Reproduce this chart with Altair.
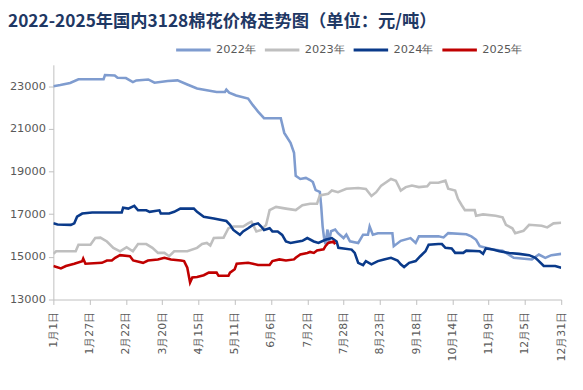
import altair as alt
import pandas as pd

series_names = ["2022年", "2023年", "2024年", "2025年"]
series_colors = ["#7f9ccf", "#bfbfbf", "#0a3a8a", "#c00000"]

tick_days = [0, 26, 52, 78, 104, 130, 156, 182, 208, 234, 260, 286, 312, 338, 364]
tick_labels = ["1月1日", "1月27日", "2月22日", "3月20日", "4月15日", "5月11日", "6月6日",
               "7月2日", "7月28日", "8月23日", "9月18日", "10月14日", "11月9日", "12月5日", "12月31日"]

y_ticks = [13000, 15000, 17000, 19000, 21000, 23000]

day_2022 = [0, 5, 12, 18, 36, 37, 44, 46, 52, 57, 59.5, 68, 72.5, 82, 89, 96, 103, 117, 123, 124, 126,
            131, 139.6, 143, 146.7, 151, 163, 165.5, 170, 172.5, 173.7, 177, 181, 184, 186, 188, 191,
            192, 193, 194, 195, 196.5, 197.5, 199, 202, 204, 208, 210, 212.6, 218.5, 222, 225.5, 226.7,
            229, 232.6, 243, 244, 249, 256, 259.7, 262, 276, 279.7, 283, 296, 299.6, 303, 305.6, 315,
            322, 330, 343, 348, 352.6, 357, 364]
val_2022 = [23000, 23050, 23150, 23320, 23330, 23520, 23500, 23390, 23380, 23190, 23270, 23315, 23160,
            23240, 23270, 23080, 22890, 22730, 22730, 22840, 22700, 22560, 22420, 22110, 21810, 21500,
            21500, 20810, 20340, 19880, 18800, 18650, 18700, 18600, 18510, 18130, 18050, 17355, 16430,
            15900, 15590, 16280, 15650, 16200, 16280, 16110, 15880, 16040, 15725, 15650, 16040, 16040,
            16420, 16040, 16110, 16110, 15500, 15750, 15880, 15650, 15960, 15960, 15910, 16110, 16060,
            15960, 15800, 15500, 15340, 15290, 14955, 14880, 15110, 14955, 15080, 15140]

day_2023 = [0, 2, 16, 18, 26.6, 30, 33.7, 38.4, 43, 47.8, 52.5, 57, 60.7, 66.6, 71, 75, 79.6, 83, 86.6,
            96, 103, 106.6, 110, 112.5, 115, 122, 125.5, 129, 136, 139.6, 142, 145.5, 149, 152.5, 155,
            159.6, 166.7, 173.7, 178.5, 184, 189, 191, 197, 199.6, 204, 210, 218.5, 224, 228, 231.4, 235,
            242, 245.5, 249, 252.6, 257, 262, 268, 270, 276, 281, 283, 288, 290, 292.6, 295, 302, 303, 308,
            317, 322, 324.4, 329, 331, 337, 341, 350, 354, 358.5, 364]
val_2023 = [15140, 15260, 15260, 15570, 15570, 15880, 15900, 15720, 15420, 15260, 15450, 15260, 15600,
            15600, 15420, 15185, 15185, 15030, 15260, 15260, 15420, 15600, 15650, 15530, 15880, 15900,
            16340, 16420, 16420, 16570, 16650, 16190, 16260, 16500, 17190, 17340, 17260, 17190, 17420,
            17490, 17490, 17880, 17960, 18110, 18030, 18190, 18230, 18180, 17850, 18030, 18340, 18650,
            18570, 18110, 18270, 18340, 18270, 18310, 18470, 18470, 18570, 18190, 18110, 17720, 17430,
            17190, 17190, 16930, 16990, 16930, 16850, 16500, 16340, 16110, 16220, 16500, 16460, 16380,
            16570, 16600]

day_2024 = [0, 3, 12.5, 15, 17, 20.7, 27.8, 49, 50, 53.7, 58, 60.7, 66.6, 69, 76, 77, 83, 86.6, 91,
            100.7, 103, 107.8, 115, 124, 126.6, 129, 133.7, 136, 139.6, 143, 146.7, 149, 151, 155, 157,
            160.8, 164, 166.7, 170, 173.7, 178.5, 182, 186.7, 190, 195, 199.6, 203, 204.3, 213.8, 216,
            218.5, 222, 224, 228, 232.6, 237, 242, 246.7, 249, 251.4, 255, 259.7, 263, 266.7, 269, 276,
            278.5, 281, 285.5, 288, 293.8, 296, 305.6, 308, 310, 315, 319.7, 326.8, 333.8, 341, 345.5,
            348, 351.5, 359.7, 364]
val_2024 = [16570, 16520, 16500, 16570, 16880, 17030, 17080, 17080, 17300, 17260, 17390, 17180, 17180,
            17110, 17180, 17030, 17030, 17110, 17260, 17260, 17110, 16880, 16800, 16680, 16500, 16260,
            16030, 16190, 16340, 16500, 16570, 16420, 16260, 16340, 16190, 16190, 16030, 15720, 15650,
            15700, 15750, 15880, 15720, 15650, 15800, 15880, 15720, 15420, 15340, 15185, 14720, 14615,
            14800, 14650, 14800, 14880, 14955, 14830, 14650, 14525, 14720, 14800, 15030, 15260, 15570,
            15600, 15600, 15420, 15390, 15185, 15185, 15290, 15260, 15140, 15390, 15340, 15260, 15185,
            15140, 15080, 14955, 14800, 14570, 14570, 14490]

day_2025 = [0, 5.4, 9, 15, 20.7, 21.4, 23, 34.8, 38.4, 41.9, 44.3, 47.8, 54.9, 57.2, 64.3, 67.8, 74.9,
            79.6, 84.3, 91.3, 93.7, 96, 98, 99.6, 103, 107.8, 111.4, 117, 118.4, 125.5, 126.6, 130, 131.4,
            139.6, 143, 146.7, 155, 157, 162, 166.7, 172.5, 173.7, 177, 182, 184, 186.7, 189, 193.7, 195,
            197, 200.8, 202]
val_2025 = [14570, 14460, 14570, 14680, 14800, 14920, 14680, 14720, 14830, 14830, 14955, 15080, 15030,
            14830, 14720, 14830, 14880, 14955, 14880, 14830, 14800, 14490, 13800, 14030, 14060, 14140,
            14260, 14260, 14110, 14110, 14260, 14420, 14680, 14720, 14680, 14615, 14615, 14800, 14880,
            14830, 14880, 14955, 15110, 15185, 15230, 15185, 15300, 15350, 15500, 15650, 15720, 15590]

frames = []
for name, d, v in zip(series_names,
                      [day_2022, day_2023, day_2024, day_2025],
                      [val_2022, val_2023, val_2024, val_2025]):
    frames.append(pd.DataFrame({"series": name, "day": d, "value": v}))
df = pd.concat(frames, ignore_index=True)

label_array = "[" + ",".join("'" + s + "'" for s in tick_labels) + "]"

chart = alt.Chart(df).mark_line(strokeWidth=2.6, clip=True).encode(
    x=alt.X("day:Q",
            scale=alt.Scale(domain=[0, 364], nice=False, zero=False),
            axis=alt.Axis(values=tick_days, labelExpr=label_array + "[round(datum.value/26)]",
                          labelAngle=270, title=None, grid=False, domainColor="#bfbfbf",
                          tickColor="#bfbfbf", tickSize=5, labelPadding=7,
                          labelFont="DejaVu Sans", labelFontSize=11, labelColor="#595959")),
    y=alt.Y("value:Q",
            scale=alt.Scale(domain=[13000, 24000], nice=False, zero=False),
            axis=alt.Axis(values=y_ticks, title=None, grid=False, domainColor="#bfbfbf",
                          tickColor="#bfbfbf", tickSize=5, labelPadding=3, format="d",
                          labelFont="DejaVu Sans", labelFontSize=11.5, labelColor="#595959")),
    color=alt.Color("series:N",
                    scale=alt.Scale(domain=series_names, range=series_colors),
                    legend=alt.Legend(title=None, orient="none", direction="horizontal",
                                      legendX=123, legendY=-34, symbolType="stroke",
                                      symbolSize=1225, symbolStrokeWidth=3, labelOffset=4,
                                      columnPadding=1, labelFont="DejaVu Sans",
                                      labelFontSize=11.5, labelColor="#595959")),
    order=alt.Order("series:N"),
).properties(
    width=515,
    height=238,
    autosize=alt.AutoSizeParams(type="none"),
    padding={"left": 46, "top": 55, "right": 14, "bottom": 80},
    title=alt.TitleParams(text="2022-2025年国内3128棉花价格走势图（单位：元/吨）",
                          anchor="start", frame="group", dx=-46, offset=1,
                          font="Noto Sans CJK SC", fontSize=17.5, fontWeight="bold",
                          color="#1f3864"),
).configure_view(stroke=None)

chart.save("out.html", embed_options={"renderer": "svg", "actions": False})
